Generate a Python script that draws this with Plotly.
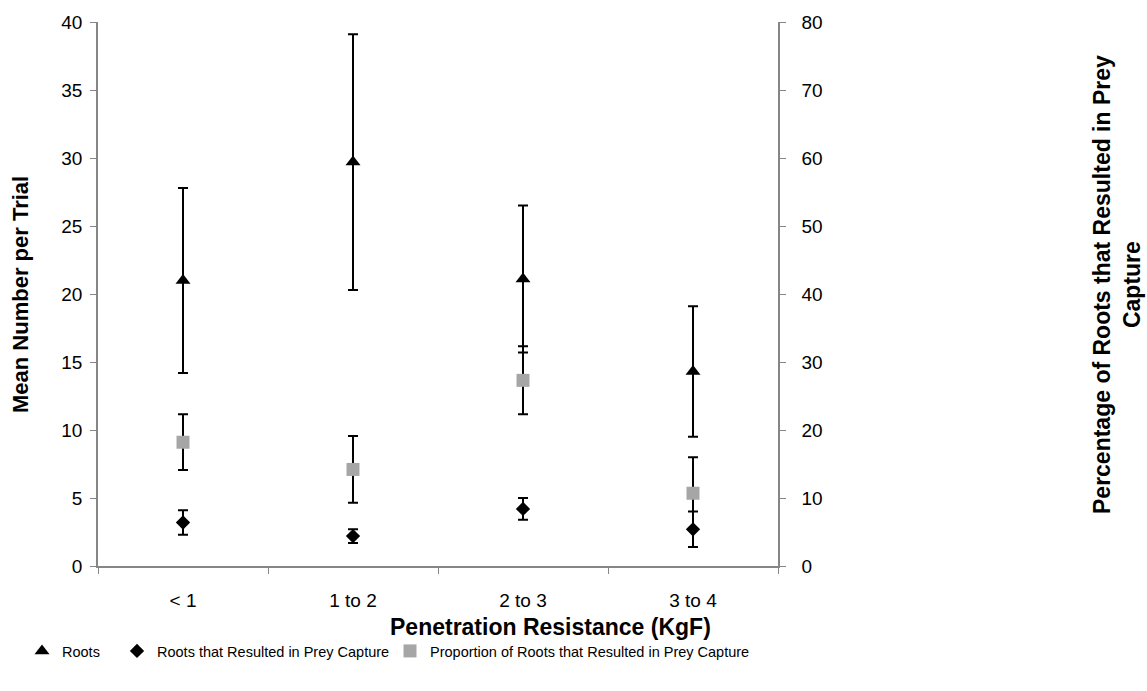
import plotly.graph_objects as go

categories = ["< 1", "1 to 2", "2 to 3", "3 to 4"]

roots_mean = [21.0, 29.7, 21.1, 14.3]
roots_err = [6.8, 9.4, 5.4, 4.8]

capture_mean = [3.2, 2.2, 4.2, 2.7]
capture_err = [0.9, 0.5, 0.8, 1.3]

prop_mean = [18.2, 14.2, 27.3, 10.7]
prop_err = [4.1, 4.9, 5.0, 5.3]

FONT = "Liberation Sans, Arial, sans-serif"
AXIS_COLOR = "#868686"

L, R, T, B = 98, 778, 22, 566
PW, PH = R - L, B - T


def px(x):
    return (x - L) / PW


def py(y):
    return (B - y) / PH


fig = go.Figure()

fig.add_trace(go.Scatter(
    x=categories, y=roots_mean, mode="markers", name="Roots",
    marker=dict(symbol="triangle-up", size=13, color="black"),
    error_y=dict(type="data", array=roots_err, color="black", thickness=2, width=5),
    yaxis="y", legend="legend",
))
fig.add_trace(go.Scatter(
    x=categories, y=capture_mean, mode="markers", name="Roots that Resulted in Prey Capture",
    marker=dict(symbol="diamond", size=11, color="black"),
    error_y=dict(type="data", array=capture_err, color="black", thickness=2, width=5),
    yaxis="y", legend="legend2",
))
fig.add_trace(go.Scatter(
    x=categories, y=prop_mean, mode="markers", name="Proportion of Roots that Resulted in Prey Capture",
    marker=dict(symbol="square", size=13, color="#A6A6A6"),
    error_y=dict(type="data", array=prop_err, color="black", thickness=2, width=5),
    yaxis="y2", legend="legend3",
))

leg_common = dict(orientation="h", yanchor="middle", xanchor="left",
                  font=dict(size=14.5, color="black", family=FONT),
                  bgcolor="rgba(0,0,0,0)")

fig.update_layout(
    width=1147, height=691,
    margin=dict(l=L, r=1147 - R, t=T, b=691 - B),
    paper_bgcolor="white", plot_bgcolor="white",
    font=dict(family=FONT, size=19, color="black"),
    showlegend=True,
    legend=dict(x=px(22), y=py(651), **leg_common),
    legend2=dict(x=px(117), y=py(651), **leg_common),
    legend3=dict(x=px(390), y=py(651), **leg_common),
    xaxis=dict(
        type="category", range=[-0.5, 3.5], tickson="boundaries",
        showline=True, linecolor=AXIS_COLOR, linewidth=1.5,
        ticks="outside", ticklen=6, tickcolor=AXIS_COLOR,
        showgrid=False, zeroline=False, ticklabelstandoff=16,
        tickfont=dict(size=19, color="black"),
    ),
    yaxis=dict(
        range=[0, 40], dtick=5, showline=True, linecolor=AXIS_COLOR, linewidth=1.5,
        ticks="outside", ticklen=6, tickcolor=AXIS_COLOR,
        showgrid=False, zeroline=False, ticklabelstandoff=4,
        tickfont=dict(size=19, color="black"),
    ),
    yaxis2=dict(
        range=[0, 80], dtick=10, overlaying="y", side="right",
        showline=True, linecolor=AXIS_COLOR, linewidth=1.5,
        ticks="outside", ticklen=6, tickcolor=AXIS_COLOR,
        showgrid=False, zeroline=False, ticklabelstandoff=12,
        tickfont=dict(size=19, color="black"),
    ),
    annotations=[
        dict(text="<b>Mean Number per Trial</b>", xref="paper", yref="paper",
             x=px(20), y=py(295), textangle=-90, showarrow=False,
             font=dict(size=22, color="black"), xanchor="center", yanchor="middle"),
        dict(text="<b>Penetration Resistance (KgF)</b>", xref="paper", yref="paper",
             x=px(550), y=py(627), showarrow=False,
             font=dict(size=23, color="black"), xanchor="center", yanchor="middle"),
        dict(text="<b>Percentage of Roots that Resulted in Prey<br>Capture</b>", xref="paper", yref="paper",
             x=px(1117), y=py(285), textangle=-90, showarrow=False,
             font=dict(size=23, color="black"), xanchor="center", yanchor="middle"),
    ],
)

fig.write_html("out.html")
